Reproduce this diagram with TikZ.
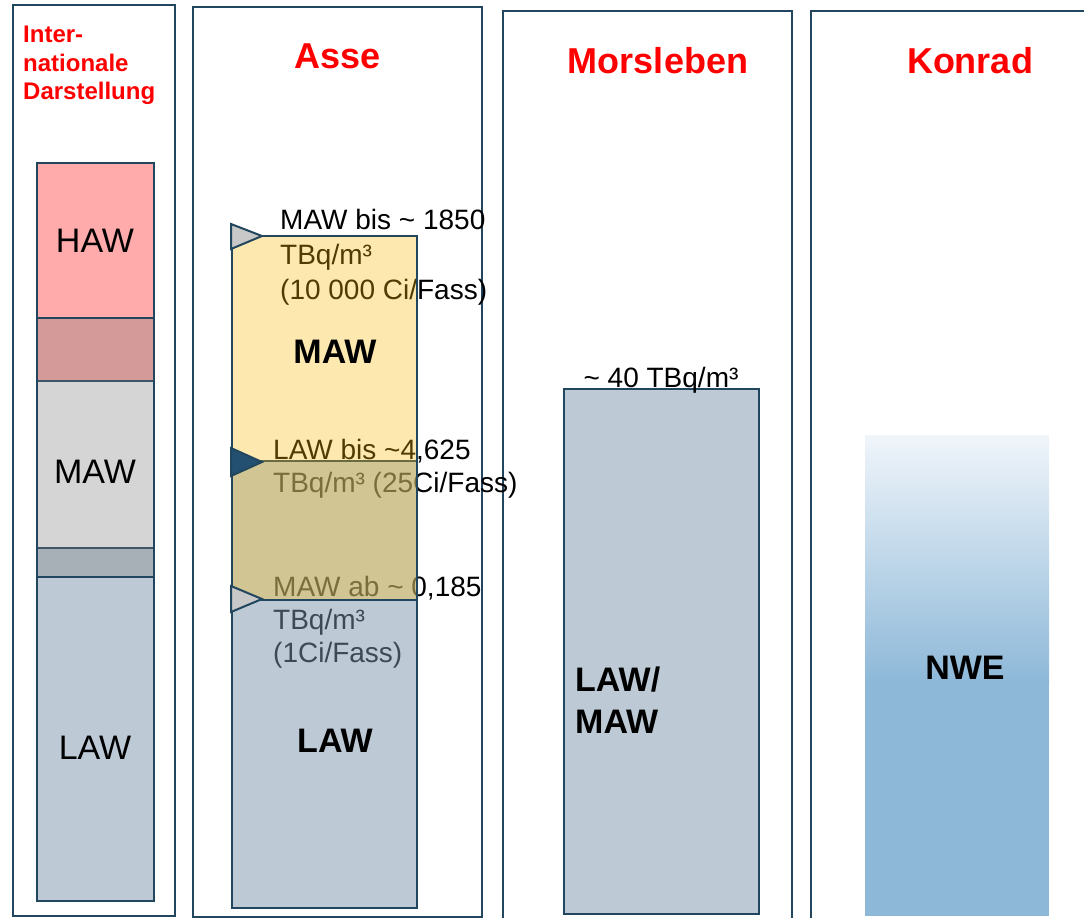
\documentclass[tikz,border=0pt]{standalone}
\usepackage{fontspec}
\setmainfont{Liberation Sans}
\usepackage{tikz}
\usetikzlibrary{positioning}

\definecolor{frame}{RGB}{35,70,95}
\definecolor{titlered}{RGB}{255,0,0}
\definecolor{hawpink}{RGB}{255,171,171}
\definecolor{mawgray}{RGB}{119,119,119}
\definecolor{lawblue}{RGB}{123,149,171}
\definecolor{lawsolid}{RGB}{189,202,213}
\definecolor{mawyellow}{RGB}{250,187,9}
\definecolor{markgray}{RGB}{200,200,200}
\definecolor{markblue}{RGB}{35,80,112}
\definecolor{nwetop}{RGB}{240,245,250}
\definecolor{nwe}{RGB}{141,184,216}

\begin{document}
\begin{tikzpicture}[x=1pt,y=-1pt,
  panel/.style={draw=frame,line width=2.5pt},
  bar/.style={draw=frame,line width=2.5pt},
  title/.style={text=titlered,font=\fontsize{36}{43}\selectfont\bfseries,anchor=base},
  big/.style={font=\fontsize{34}{41}\selectfont},
  bigb/.style={font=\fontsize{34}{42}\selectfont\bfseries},
  note/.style={font=\fontsize{28}{#1}\selectfont,align=left,inner sep=0pt,anchor=north west},
  marker/.style={draw=frame,line width=2pt,fill=#1}]
\useasboundingbox (0,0) rectangle (1084,918);
\clip (0,0) rectangle (1084,918);

\draw[panel] (13,5) rectangle (175,916);
\draw[panel] (193,7) rectangle (482,917);
\draw[panel] (503,11) rectangle (792,940);
\draw[panel] (811,11) rectangle (1110,940);

\node[title] (t_asse) at (338,68) {Asse};
\node[title] (t_mors) at (658,73) {Morsleben};
\node[title] (t_konrad) at (970,73) {Konrad};
\node[text=titlered,font=\fontsize{24}{28.5}\selectfont\bfseries,align=left,inner sep=0pt,anchor=north west]
  (t_int) at (23,26) {Inter-\\nationale\\Darstellung};

\draw[bar,fill=hawpink] (37,163) rectangle (154,381);
\draw[bar,fill=lawsolid] (37,548) rectangle (154,901);
\draw[bar,fill=mawgray,fill opacity=0.31] (37,318) rectangle (154,577);
\node[big] (i_haw) at (95,241) {HAW};
\node[big] (i_maw) at (95,472) {MAW};
\node[big] (i_law) at (95,748) {LAW};

\node[note=35] (n_mawbis) at (280,209) {MAW bis \textasciitilde{} 1850\\TBq/m³\\(10 000 Ci/Fass)};
\node[note=33] (n_lawbis) at (273,439) {LAW bis \textasciitilde4,625\\TBq/m³ (25Ci/Fass)};
\node[note=33] (n_mawab) at (273,576) {MAW ab \textasciitilde{} 0,185\\TBq/m³\\(1Ci/Fass)};
\draw[bar,fill=lawblue,fill opacity=0.5] (232,461) rectangle (417,908);
\draw[bar,fill=mawyellow,fill opacity=0.32] (232,236) rectangle (417,600);
\draw[marker=markgray] (231,224) -- (262,236) -- (231,249) -- cycle;
\draw[marker=markblue] (231,448) -- (262,462) -- (231,476) -- cycle;
\draw[marker=markgray] (231,586) -- (262,599) -- (231,612) -- cycle;
\node[bigb] (a_maw) at (335,352) {MAW};
\node[bigb] (a_law) at (335,741) {LAW};

\draw[bar,fill=lawsolid] (564,389) rectangle (759,914);
\node[font=\fontsize{28}{34}\selectfont,anchor=base] (m_top) at (661,387) {\textasciitilde{} 40 TBq/m³};
\node[bigb,align=left,inner sep=0pt,anchor=north west] (m_lawmaw) at (575,667) {LAW/\\MAW};

\shade[top color=nwetop,bottom color=nwe] (865,435) rectangle (1049,684);
\fill[nwe] (865,683) rectangle (1049,916);
\node[bigb] (k_nwe) at (965,668) {NWE};
\end{tikzpicture}
\end{document}
